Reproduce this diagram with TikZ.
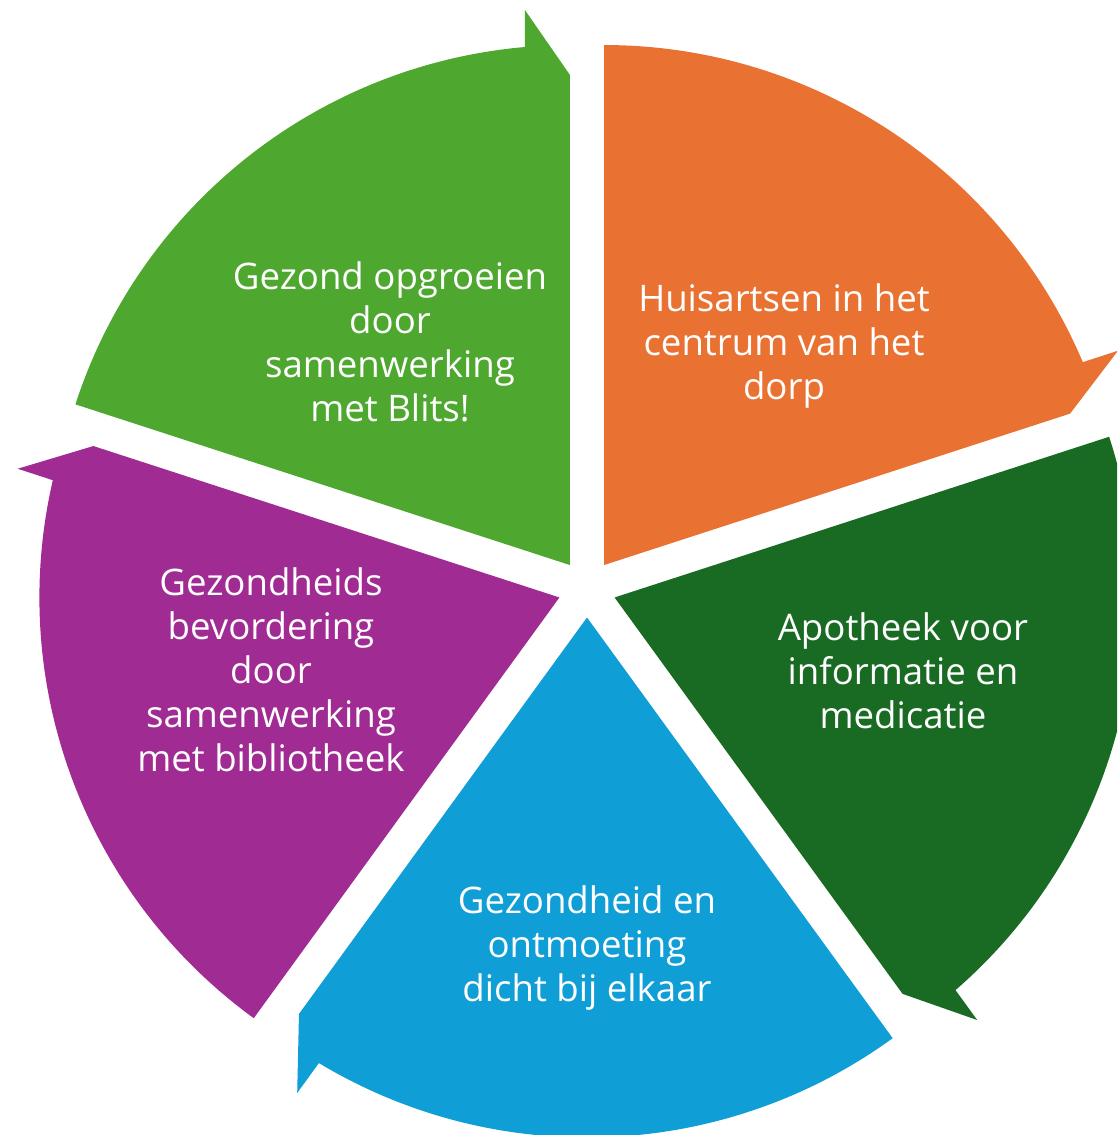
\documentclass[tikz,border=0pt]{standalone}
\usepackage{fontspec}
\setmainfont{Open Sans}
\definecolor{cGreen}{HTML}{4EA72E}
\definecolor{cOrange}{HTML}{E97132}
\definecolor{cDkGreen}{HTML}{196B24}
\definecolor{cBlue}{HTML}{0F9ED5}
\definecolor{cPurple}{HTML}{A02B93}
% #1 colour, #2 explode direction, #3 end angle (arrow end)
\newcommand\cycseg[3]{%
  \fill[#1, shift={(587,-588.5)}, shift={(#2:29)}, rotate=#3]
    (0,0) -- (72:520pt) arc[start angle=72, end angle=4.965, radius=520pt]
    -- (555,45) -- (490,0) -- cycle;}
\begin{document}
\begin{tikzpicture}[x=1pt,y=1pt,
  lbl/.style={text=white, align=center, inner sep=0pt,
    font=\fontsize{36.6}{44}\selectfont}]
\useasboundingbox (0,-1135) rectangle (1117,0);
\clip (0,-1135) rectangle (1117,0);
\cycseg{cGreen}{126}{90}
\cycseg{cOrange}{54}{18}
\cycseg{cDkGreen}{-18}{-54}
\cycseg{cBlue}{-90}{-126}
\cycseg{cPurple}{198}{162}
\node[lbl] (lgreen) at (390,-347) {\strut Gezond opgroeien\\\strut door\\\strut samenwerking\\\strut met Blits!};
\node[lbl] (lorange) at (784,-347) {\strut Huisartsen in het\\\strut centrum van het\\\strut dorp};
\node[lbl] (ldkgreen) at (903,-675.5) {\strut Apotheek voor\\\strut informatie en\\\strut medicatie};
\node[lbl] (lblue) at (587,-949) {\strut Gezondheid en\\\strut ontmoeting\\\strut dicht bij elkaar};
\node[lbl] (lpurple) at (271,-675) {\strut Gezondheids\\\strut bevordering\\\strut door\\\strut samenwerking\\\strut met bibliotheek};
\end{tikzpicture}
\end{document}
